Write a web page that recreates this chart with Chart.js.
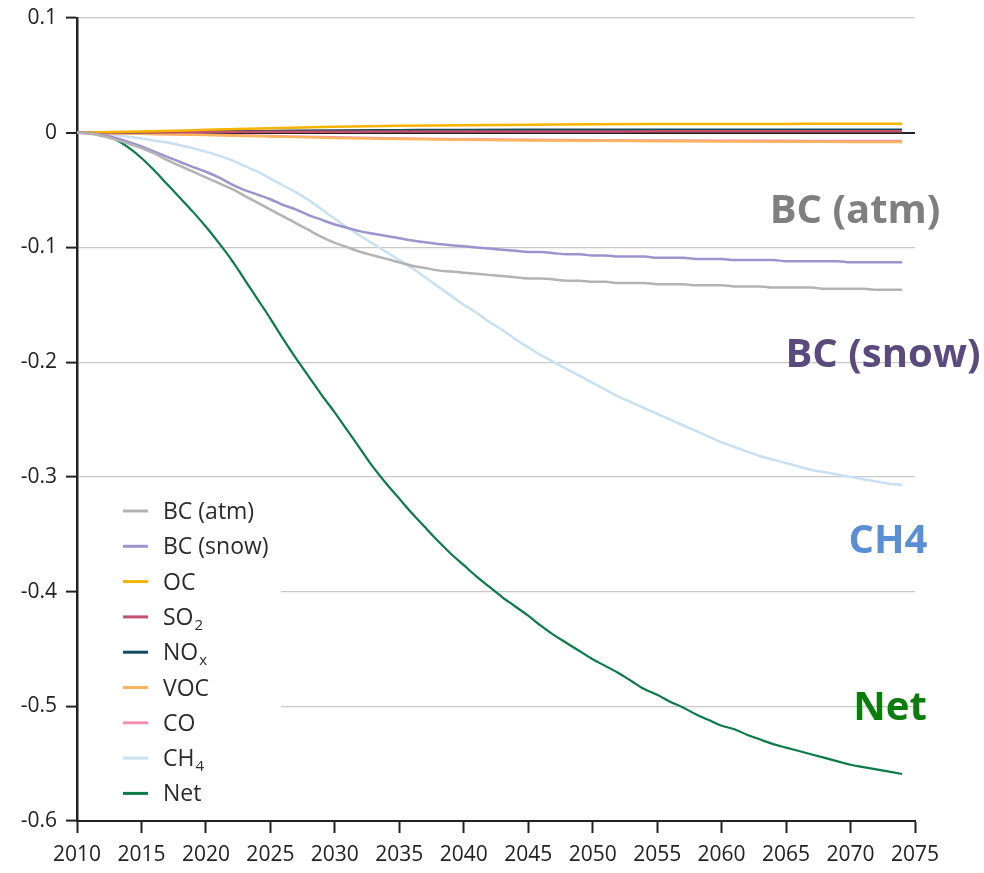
<!DOCTYPE html>
<html>
<head>
<meta charset="utf-8">
<script src="https://cdn.jsdelivr.net/npm/chart.js@4/dist/chart.umd.min.js"></script>
<style>
  html, body { margin: 0; padding: 0; background: #fff; }
  #chart { display: block; }
</style>
</head>
<body>
<canvas id="chart" width="984" height="873"></canvas>
<script>
// ─────────────────────────────
// Data
// ─────────────────────────────
const years = [];
for (let y = 2010; y <= 2074; y++) years.push(y);

const bcAtm = [
  0, -0.001, -0.003, -0.006, -0.0095, -0.0135, -0.018, -0.024, -0.029, -0.034,
  -0.039, -0.044, -0.049, -0.055, -0.061, -0.067, -0.073, -0.079, -0.085, -0.091,
  -0.096, -0.100, -0.104, -0.107, -0.110, -0.113, -0.116, -0.118, -0.120, -0.121,
  -0.122, -0.123, -0.124, -0.125, -0.126, -0.127, -0.127, -0.128, -0.129, -0.129,
  -0.130, -0.130, -0.131, -0.131, -0.131, -0.132, -0.132, -0.132, -0.133, -0.133,
  -0.133, -0.134, -0.134, -0.134, -0.135, -0.135, -0.135, -0.135, -0.136, -0.136,
  -0.136, -0.136, -0.137, -0.137, -0.137
];

const bcSnow = [
  0, -0.0005, -0.002, -0.0045, -0.008, -0.012, -0.0165, -0.021, -0.0255, -0.030,
  -0.034, -0.039, -0.045, -0.050, -0.054, -0.058, -0.063, -0.067, -0.072, -0.076,
  -0.080, -0.083, -0.086, -0.088, -0.090, -0.092, -0.094, -0.0955, -0.097, -0.098,
  -0.099, -0.100, -0.101, -0.102, -0.103, -0.104, -0.104, -0.105, -0.106, -0.106,
  -0.107, -0.107, -0.108, -0.108, -0.108, -0.109, -0.109, -0.109, -0.110, -0.110,
  -0.110, -0.111, -0.111, -0.111, -0.111, -0.112, -0.112, -0.112, -0.112, -0.112,
  -0.113, -0.113, -0.113, -0.113, -0.113
];

const ch4 = [
  0, -0.0003, -0.001, -0.002, -0.0035, -0.005, -0.007, -0.0085, -0.011, -0.0135,
  -0.0165, -0.020, -0.024, -0.029, -0.034, -0.040, -0.046, -0.052, -0.059, -0.067,
  -0.075, -0.083, -0.090, -0.097, -0.104, -0.111, -0.118, -0.126, -0.134, -0.142,
  -0.150, -0.157, -0.165, -0.172, -0.180, -0.187, -0.194, -0.200, -0.206, -0.212,
  -0.218, -0.224, -0.230, -0.235, -0.240, -0.245, -0.250, -0.255, -0.260, -0.265,
  -0.270, -0.274, -0.278, -0.282, -0.285, -0.288, -0.291, -0.294, -0.296, -0.298,
  -0.300, -0.302, -0.304, -0.306, -0.307
];

const net = [
  0, -0.0005, -0.002, -0.006, -0.013, -0.022, -0.033, -0.045, -0.057, -0.069,
  -0.082, -0.096, -0.111, -0.128, -0.145, -0.162, -0.180, -0.197, -0.213, -0.229,
  -0.244, -0.260, -0.276, -0.292, -0.306, -0.319, -0.332, -0.344, -0.356, -0.367,
  -0.377, -0.387, -0.396, -0.405, -0.413, -0.421, -0.430, -0.438, -0.445, -0.452,
  -0.459, -0.465, -0.471, -0.478, -0.485, -0.490, -0.496, -0.501, -0.507, -0.512,
  -0.517, -0.520, -0.525, -0.529, -0.533, -0.536, -0.539, -0.542, -0.545, -0.548,
  -0.551, -0.553, -0.555, -0.557, -0.559
];

// the small terms, read every five years
const smallYears = [2010, 2015, 2020, 2025, 2030, 2035, 2040, 2045, 2050, 2055, 2060, 2065, 2070, 2074];
const oc  = [0, 0.001, 0.0025, 0.004, 0.0052, 0.006, 0.0066, 0.007, 0.0073, 0.0075, 0.0076, 0.0077, 0.0078, 0.0078];
const so2 = [0, 0.0003, 0.0006, 0.0008, 0.0009, 0.001, 0.001, 0.0011, 0.0011, 0.0012, 0.0012, 0.0012, 0.0012, 0.0012];
const nox = [0, 0.0005, 0.001, 0.0015, 0.002, 0.0022, 0.0024, 0.0025, 0.0025, 0.0026, 0.0026, 0.0026, 0.0026, 0.0026];
const voc = [0, -0.001, -0.002, -0.0032, -0.0045, -0.0055, -0.0062, -0.0067, -0.0071, -0.0074, -0.0077, -0.0079, -0.008, -0.0081];
const co  = [0, -0.0009, -0.0018, -0.0029, -0.004, -0.005, -0.0057, -0.0062, -0.0066, -0.0068, -0.007, -0.0071, -0.0072, -0.0072];

const xTicks = [2010, 2015, 2020, 2025, 2030, 2035, 2040, 2045, 2050, 2055, 2060, 2065, 2070, 2075];

const seriesLabels = ['BC (atm)', 'BC (snow)', 'OC', 'SO₂', 'NOₓ', 'VOC', 'CO', 'CH₄', 'Net'];
const seriesColors = ['#b3b3b3', '#9d93cf', '#f6b300', '#c2506c', '#114b60', '#fcb45c', '#f190b0', '#c8e0f1', '#0b7b48'];

// ─────────────────────────────
// helpers
// ─────────────────────────────
const pts = (xs, ys) => xs.map((x, i) => ({ x: x, y: ys[i] }));
const seriesData = [
  pts(years, bcAtm), pts(years, bcSnow), pts(smallYears, oc), pts(smallYears, so2),
  pts(smallYears, nox), pts(smallYears, voc), pts(smallYears, co), pts(years, ch4), pts(years, net)
];

const subMap = { '₂': '2', 'ₓ': 'x', '₄': '4' };

// legend drawn inside the plot, bottom left, on white
const insetLegend = {
  id: 'insetLegend',
  afterDraw(chart) {
    const ctx = chart.ctx;
    ctx.save();
    ctx.fillStyle = '#fff';
    ctx.fillRect(79, 490, 202, 328);
    const top = 511, step = 35.3;
    chart.data.datasets.forEach((ds, i) => {
      const y = top + i * step;
      ctx.strokeStyle = ds.borderColor;
      ctx.lineWidth = 3;
      ctx.beginPath();
      ctx.moveTo(123, y);
      ctx.lineTo(148, y);
      ctx.stroke();

      let label = ds.label, sub = '';
      const last = label.slice(-1);
      if (subMap[last]) { sub = subMap[last]; label = label.slice(0, -1); }
      ctx.fillStyle = '#2b2b2b';
      ctx.textBaseline = 'alphabetic';
      ctx.textAlign = 'left';
      ctx.font = '23px "Open Sans"';
      ctx.fillText(label, 163, y + 8);
      if (sub) {
        const w = ctx.measureText(label).width;
        ctx.font = '15px "Open Sans"';
        ctx.fillText(sub, 163 + w + 1, y + 13);
      }
    });
    ctx.restore();
  }
};

// big coloured names on the right
const callouts = {
  id: 'callouts',
  afterDraw(chart) {
    const ctx = chart.ctx;
    ctx.save();
    ctx.font = 'bold 40px "Open Sans"';
    ctx.textAlign = 'center';
    ctx.textBaseline = 'alphabetic';
    [
      ['BC (atm)', '#7f7f7f', 855, 223],
      ['BC (snow)', '#5b4a7d', 883, 367],
      ['CH4', '#5b8fd5', 888, 553],
      ['Net', '#0a7d0a', 890, 720]
    ].forEach(([t, c, x, y]) => {
      ctx.fillStyle = c;
      ctx.fillText(t, x, y);
    });
    ctx.restore();
  }
};

// ─────────────────────────────
// chart
// ─────────────────────────────
new Chart(document.getElementById('chart').getContext('2d'), {
  type: 'line',
  data: {
    datasets: seriesLabels.map((label, i) => ({
      label: label,
      data: seriesData[i],
      borderColor: seriesColors[i],
      borderWidth: i === 8 ? 2.2 : 2.5,
      pointRadius: 0,
      cubicInterpolationMode: 'monotone',
      fill: false
    }))
  },
  options: {
    responsive: false,
    animation: false,
    devicePixelRatio: 1,
    layout: { padding: { top: 18, right: 69, left: 0, bottom: 0 } },
    plugins: {
      legend: { display: false },
      tooltip: { enabled: false }
    },
    scales: {
      x: {
        type: 'linear',
        min: 2010,
        max: 2075,
        afterFit: s => { s.height = 52; s.paddingLeft = 0; s.paddingRight = 0; },
        afterBuildTicks: s => { s.ticks = xTicks.map(v => ({ value: v })); },
        border: { color: '#222', width: 2 },
        grid: { drawOnChartArea: false, drawTicks: true, tickLength: 12, tickColor: '#222', tickWidth: 2 },
        ticks: {
          autoSkip: false,
          maxRotation: 0,
          padding: 9,
          color: '#222',
          font: { family: 'Open Sans', size: 21 },
          callback: v => String(v)
        }
      },
      y: {
        min: -0.6,
        max: 0.1,
        afterFit: s => { s.width = 77; s.paddingTop = 0; s.paddingBottom = 0; },
        border: { color: '#222', width: 2.5 },
        grid: {
          color: c => (c.tick && Math.abs(c.tick.value) < 1e-9 ? '#222' : '#c8c8c8'),
          lineWidth: c => (c.tick && Math.abs(c.tick.value) < 1e-9 ? 2 : 1.2),
          drawTicks: true,
          tickLength: 11,
          tickColor: '#222',
          tickWidth: 2
        },
        ticks: {
          stepSize: 0.1,
          padding: 9,
          color: '#222',
          font: { family: 'Open Sans', size: 21 },
          callback: v => {
            const r = Math.round(v * 10) / 10;
            return r === 0 ? '0' : String(r);
          }
        }
      }
    }
  },
  plugins: [insetLegend, callouts]
});
</script>
</body>
</html>
